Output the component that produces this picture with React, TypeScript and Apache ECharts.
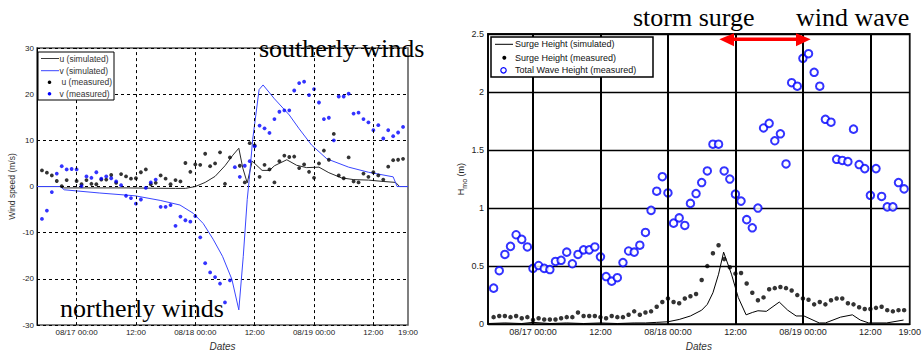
import React, { useEffect, useRef } from 'react';
import * as echarts from 'echarts';

// hours relative to 08/17 00:00
const xMin = -8;
const xMax = 67;
const xTickHours = [0, 12, 24, 36, 48, 60, 67];
const xTickLabels = ['08/17 00:00', '12:00', '08/18 00:00', '12:00', '08/19 00:00', '12:00', '19:00'];
const gridHours = [0, 12, 24, 36, 48, 60];

// measurement times (hourly)
const measHours = Array.from({ length: 74 }, (_, i) => i - 7);

// ---- left chart: wind speed (m/s)
const uMeasured = [3.5, 3.0, 2.4, 1.2, 0.1, 1.4, null, 1.2, 0.5, 1.4, 0.6, 0.5, 1.5, 1.5, 2.5, 0.8, 2.7, 2.2, 1.7, 1.8, 3.1, 3.7, 0.5, 0.8, 2.4, 1.7, 0.5, 1.4, 1.1, 5.1, 3.2, 4.8, 4.7, 7.1, 4.4, 5.0, 7.4, 0.6, 6.3, null, 4.5, 0.9, 9.4, 8.9, 2.1, 4.7, 3.7, 0.9, 5.5, 6.7, 6.4, 6.5, 4.0, 4.8, 3.2, 1.9, 5.0, 7.8, 5.8, 11.4, 2.4, 1.8, 6.3, 1.1, 0.9, 2.8, 2.1, 3.1, 2.4, 1.5, 4.3, 5.7, 5.8, 6.0];
const vMeasured = [-7.0, -5.2, -1.2, 2.8, 4.4, 3.7, 3.8, 3.7, 0.1, 2.2, 1.9, 3.1, 1.7, 2.2, 1.8, 1.1, 0.3, -2.0, -2.5, -3.7, -2.8, -0.3, 0.9, 1.5, -4.4, -4.4, -4.0, -8.5, -6.5, -7.3, -7.6, -6.4, -11.0, -16.6, -18.6, -19.6, -21.0, -25.1, -20.3, 4.2, 2.1, 4.5, 5.5, 8.7, 13.2, 12.6, 11.6, 14.6, 16.2, 16.5, 16.5, 20.8, 22.4, 22.7, 19.8, 21.1, 18.2, 14.6, 14.9, 10.0, 19.5, 19.5, 20.1, 15.8, 16.0, 14.6, 13.9, 12.2, 13.3, 10.4, 12.2, 10.9, 11.7, 12.9];

const uSimHours = [-8, -3.2, -2.6, 10, 20, 22, 24, 26, 28, 30, 31.6, 32.8, 33.6, 34.5, 35.5, 37.5, 39, 40, 42.5, 44.5, 46.5, 49, 51, 53.5, 56, 59, 62, 64.5, 65.3, 67];
const uSimValues = [0, 0, -0.3, -0.3, -0.4, -0.4, 0, 0.9, 2.2, 4.5, 6.8, 8.3, 4.0, 0.8, 5.5, 3.5, 3.5, 4.5, 5.8, 4.6, 4.1, 4.2, 3.0, 1.9, 1.5, 1.4, 1.1, 0.9, 0, 0];
const vSimHours = [-8, -3.3, -2.5, 4.7, 11.8, 16.9, 20.9, 23.6, 25.6, 27.6, 29.5, 31.4, 32.8, 33.7, 34.5, 34.9, 35.6, 36.9, 37.7, 40, 43, 45, 47.5, 50.6, 55, 59, 64, 64.8, 67];
const vSimValues = [0, 0, -0.7, -1.4, -2.0, -3.0, -4.0, -5.8, -8.0, -11.4, -15.1, -20.1, -26.7, -15.1, -2.8, 1.5, 10.2, 21.0, 22.0, 19.0, 15.5, 12.5, 9.0, 6.0, 4.2, 3.1, 2.1, 0, 0];

// ---- right chart: Hmo (m)
const surgeMeasured = [0.06, 0.07, 0.07, 0.06, 0.07, 0.05, 0.06, 0.035, 0.05, 0.04, 0.04, 0.04, 0.05, 0.06, 0.06, 0.10, 0.07, 0.07, 0.07, 0.06, 0.05, 0.07, 0.06, 0.06, 0.08, 0.11, 0.08, 0.10, 0.11, 0.15, 0.19, 0.22, 0.19, 0.18, 0.22, 0.24, 0.26, 0.38, 0.50, 0.61, 0.68, 0.56, 0.49, 0.435, 0.44, 0.35, 0.27, 0.205, 0.23, 0.30, 0.31, 0.32, 0.31, 0.29, 0.25, 0.22, 0.21, 0.17, 0.19, 0.17, 0.205, 0.22, 0.22, 0.18, 0.17, 0.145, 0.13, 0.13, 0.14, 0.15, 0.12, 0.11, 0.12, 0.12];
const waveMeasured = [0.31, 0.46, 0.60, 0.67, 0.77, 0.73, 0.665, 0.48, 0.505, 0.48, 0.47, 0.54, 0.55, 0.62, 0.52, 0.60, 0.64, 0.64, 0.665, 0.58, 0.41, 0.37, 0.40, 0.53, 0.63, 0.62, 0.68, 0.79, 0.98, 1.145, 1.27, 1.13, 0.87, 0.915, 0.85, 1.04, 1.125, 1.22, 1.32, 1.55, 1.55, 1.32, 1.25, 1.12, 1.06, 0.90, 0.83, 1.0, 1.69, 1.73, 1.58, 1.64, 1.38, 2.08, 2.05, 2.29, 2.33, 2.17, 2.05, 1.765, 1.74, 1.42, 1.41, 1.40, 1.68, 1.375, 1.34, 1.11, 1.34, 1.10, 1.01, 1.01, 1.22, 1.165];
const surgeSimHours = [-8, -5, -2, 0, 3, 6, 9, 12, 15, 18, 20, 22, 24, 26, 28, 30, 31, 32, 33, 33.9, 35.3, 36.5, 37.9, 39, 40, 41.5, 43.8, 45.3, 46.8, 48.2, 50.9, 52, 54.7, 56.8, 58.2, 59.7, 62.9, 65.9];
const surgeSimValues = [0.005, 0.01, 0.005, 0.015, 0.005, 0.01, 0.005, 0.01, 0.005, 0.01, 0.01, 0.015, 0.02, 0.04, 0.07, 0.12, 0.17, 0.27, 0.43, 0.62, 0.43, 0.23, 0.08, 0.10, 0.115, 0.11, 0.19, 0.12, 0.07, 0.07, 0.01, 0.01, 0.06, 0.08, 0.035, 0.01, 0.01, 0.035];

const zip = (xs: number[], ys: (number | null)[]) => xs.map((x, i) => [x, ys[i]]);
const SANS = 'Liberation Sans, Arial, sans-serif';
const SERIF = 'Liberation Serif, Times New Roman, serif';

const tickLabel = (v: number) => {
  const i = xTickHours.indexOf(v);
  return i >= 0 ? xTickLabels[i] : '';
};

export default function App() {
  const ref = useRef<HTMLDivElement>(null);
  useEffect(() => {
    if (!ref.current) return;
    const chart = echarts.init(ref.current, null, { renderer: 'svg' });
    const xAxisBase = (fontSize: number, margin: number) => ({
      type: 'value',
      min: xMin,
      max: xMax,
      splitLine: { show: false },
      axisTick: { show: false, customValues: xTickHours },
      axisLine: { show: false, onZero: false },
      axisLabel: {
        customValues: xTickHours,
        formatter: (v: number) => tickLabel(v),
        fontSize,
        color: '#222',
        fontFamily: SANS,
        margin,
        hideOverlap: false,
        showMinLabel: true,
        showMaxLabel: true,
      },
      name: 'Dates',
      nameLocation: 'middle',
      nameTextStyle: { fontStyle: 'italic', fontSize: 10, color: '#333', fontFamily: SANS },
    });
    const option: any = {
      animation: false,
      grid: [
        { left: 37, top: 48, width: 371, height: 278, show: true, borderColor: '#555', borderWidth: 1.5, backgroundColor: 'transparent' },
        { left: 488, top: 34, width: 425, height: 297, show: true, borderColor: '#111', borderWidth: 1.8, backgroundColor: 'transparent' },
      ],
      xAxis: [
        { ...xAxisBase(8, 3), gridIndex: 0, nameGap: 12 },
        { ...xAxisBase(9, 3), gridIndex: 1, nameGap: 13 },
      ],
      yAxis: [
        {
          type: 'value', gridIndex: 0, min: -30, max: 30, interval: 10,
          axisLine: { show: true, onZero: false, lineStyle: { color: '#000', width: 1 } },
          axisTick: { show: false },
          axisLabel: { fontSize: 8, color: '#222', fontFamily: SANS, margin: 3 },
          splitLine: { show: true, lineStyle: { color: '#000', width: 1, type: [3, 3] } },
          name: 'Wind speed (m/s)', nameLocation: 'middle', nameRotate: 90, nameGap: 21,
          nameTextStyle: { fontSize: 8.5, color: '#333', fontFamily: SANS },
        },
        {
          type: 'value', gridIndex: 1, min: 0, max: 2.5, interval: 0.5,
          axisLine: { show: true, onZero: false, lineStyle: { color: '#000', width: 1.5 } },
          axisTick: { show: false },
          axisLabel: { fontSize: 9, color: '#222', fontFamily: SANS, margin: 4 },
          splitLine: { show: true, lineStyle: { color: '#000', width: 1.3 } },
          name: 'H{s|mo} (m)', nameLocation: 'middle', nameRotate: 90, nameGap: 16,
          nameTextStyle: {
            fontSize: 9, color: '#222', fontFamily: SANS,
            rich: { s: { fontSize: 7, fontFamily: SANS, color: '#222', padding: [6, 0, 0, 0] } },
          },
        },
      ],
      series: [
        {
          name: 'u (simulated)', type: 'line', xAxisIndex: 0, yAxisIndex: 0, symbol: 'none',
          data: zip(uSimHours, uSimValues), lineStyle: { color: '#2a2a2a', width: 1 }, itemStyle: { color: '#2a2a2a' },
          markLine: {
            silent: true, symbol: ['none', 'none'], label: { show: false },
            lineStyle: { color: '#000', width: 1, type: [3, 3] },
            data: gridHours.map((h) => ({ xAxis: h })),
          },
          z: 3,
        },
        {
          name: 'v (simulated)', type: 'line', xAxisIndex: 0, yAxisIndex: 0, symbol: 'none',
          data: zip(vSimHours, vSimValues), lineStyle: { color: '#3a46ff', width: 1 }, itemStyle: { color: '#3a46ff' }, z: 3,
        },
        {
          name: 'u (measured)', type: 'scatter', xAxisIndex: 0, yAxisIndex: 0, symbolSize: 3.8,
          data: zip(measHours, uMeasured), itemStyle: { color: '#000' }, z: 4,
        },
        {
          name: 'v (measured)', type: 'scatter', xAxisIndex: 0, yAxisIndex: 0, symbolSize: 3.8,
          data: zip(measHours, vMeasured), itemStyle: { color: '#0000ff' }, z: 4,
        },
        {
          name: 'Surge Height (simulated)', type: 'line', xAxisIndex: 1, yAxisIndex: 1, symbol: 'none',
          data: zip(surgeSimHours, surgeSimValues), lineStyle: { color: '#000', width: 1 }, itemStyle: { color: '#000' },
          markLine: {
            silent: true, symbol: ['none', 'none'], label: { show: false },
            lineStyle: { color: '#000', width: 2, type: 'solid' },
            data: gridHours.map((h) => ({ xAxis: h })),
          },
          z: 3,
        },
        {
          name: 'Surge Height (measured)', type: 'scatter', xAxisIndex: 1, yAxisIndex: 1, symbolSize: 4.5,
          data: zip(measHours, surgeMeasured), itemStyle: { color: '#000' }, z: 4,
        },
        {
          name: 'Total Wave Height (measured)', type: 'scatter', xAxisIndex: 1, yAxisIndex: 1, symbol: 'emptyCircle', symbolSize: 7.5,
          data: zip(measHours, waveMeasured), itemStyle: { color: '#0000ff', borderColor: '#0000ff', borderWidth: 1.2 }, z: 4,
        },
      ],
      graphic: [
        // left legend
        { type: 'rect', z: 100, shape: { x: 38, y: 52, width: 76, height: 48 }, style: { fill: '#fff', stroke: '#000', lineWidth: 1 } },
        { type: 'line', z: 101, shape: { x1: 41, y1: 58.5, x2: 59, y2: 58.5 }, style: { stroke: '#3a3a3a', lineWidth: 1 } },
        { type: 'line', z: 101, shape: { x1: 41, y1: 70.7, x2: 59, y2: 70.7 }, style: { stroke: '#3a46ff', lineWidth: 1 } },
        { type: 'circle', z: 101, shape: { cx: 49.5, cy: 82.3, r: 1.8 }, style: { fill: '#000' } },
        { type: 'circle', z: 101, shape: { cx: 49.5, cy: 93.7, r: 1.8 }, style: { fill: '#0000ff' } },
        { type: 'text', z: 101, x: 59.5, y: 58.5, style: { text: 'u (simulated)', fontSize: 8.5, fontFamily: SANS, fill: '#333', verticalAlign: 'middle' } },
        { type: 'text', z: 101, x: 59.5, y: 70.7, style: { text: 'v (simulated)', fontSize: 8.5, fontFamily: SANS, fill: '#333', verticalAlign: 'middle' } },
        { type: 'text', z: 101, x: 61.5, y: 82.3, style: { text: 'u (measured)', fontSize: 8.5, fontFamily: SANS, fill: '#333', verticalAlign: 'middle' } },
        { type: 'text', z: 101, x: 59.5, y: 93.7, style: { text: 'v (measured)', fontSize: 8.5, fontFamily: SANS, fill: '#333', verticalAlign: 'middle' } },
        // right legend
        { type: 'rect', z: 100, shape: { x: 491, y: 37, width: 162, height: 40 }, style: { fill: '#fff', stroke: '#000', lineWidth: 1.5 } },
        { type: 'line', z: 101, shape: { x1: 495, y1: 44.3, x2: 513, y2: 44.3 }, style: { stroke: '#000', lineWidth: 1 } },
        { type: 'circle', z: 101, shape: { cx: 504.3, cy: 57.7, r: 2 }, style: { fill: '#000' } },
        { type: 'circle', z: 101, shape: { cx: 503.5, cy: 70.3, r: 2.7 }, style: { fill: 'none', stroke: '#0000ff', lineWidth: 1.2 } },
        { type: 'text', z: 101, x: 515, y: 44.3, style: { text: 'Surge Height (simulated)', fontSize: 9, fontFamily: SANS, fill: '#111', verticalAlign: 'middle' } },
        { type: 'text', z: 101, x: 515, y: 57.7, style: { text: 'Surge Height (measured)', fontSize: 9, fontFamily: SANS, fill: '#111', verticalAlign: 'middle' } },
        { type: 'text', z: 101, x: 515, y: 70.3, style: { text: 'Total Wave Height (measured)', fontSize: 9, fontFamily: SANS, fill: '#111', verticalAlign: 'middle' } },
        // annotations
        { type: 'text', z: 110, x: 259, y: 48, style: { text: 'southerly winds', fontSize: 26, fontFamily: SERIF, fill: '#000', verticalAlign: 'middle' } },
        { type: 'text', z: 110, x: 60, y: 308, style: { text: 'northerly winds', fontSize: 26, fontFamily: SERIF, fill: '#000', verticalAlign: 'middle' } },
        { type: 'text', z: 110, x: 633, y: 17, style: { text: 'storm surge', fontSize: 26, fontFamily: SERIF, fill: '#000', verticalAlign: 'middle' } },
        { type: 'text', z: 110, x: 796, y: 17, style: { text: 'wind wave', fontSize: 26, fontFamily: SERIF, fill: '#000', verticalAlign: 'middle' } },
        // red double arrow
        { type: 'line', z: 110, shape: { x1: 730, y1: 39.3, x2: 800, y2: 39.3 }, style: { stroke: '#ff0000', lineWidth: 3.5 } },
        { type: 'polygon', z: 110, shape: { points: [[719.3, 39.3], [734, 33.3], [734, 46.3]] }, style: { fill: '#ff0000' } },
        { type: 'polygon', z: 110, shape: { points: [[810.7, 39.3], [796, 33.3], [796, 46.3]] }, style: { fill: '#ff0000' } },
      ],
    };
    chart.setOption(option);
    return () => chart.dispose();
  }, []);
  return (
    <div
      ref={ref}
      style={{ position: 'fixed', left: 0, top: 0, width: 924, height: 356, background: '#fff' }}
    />
  );
}
